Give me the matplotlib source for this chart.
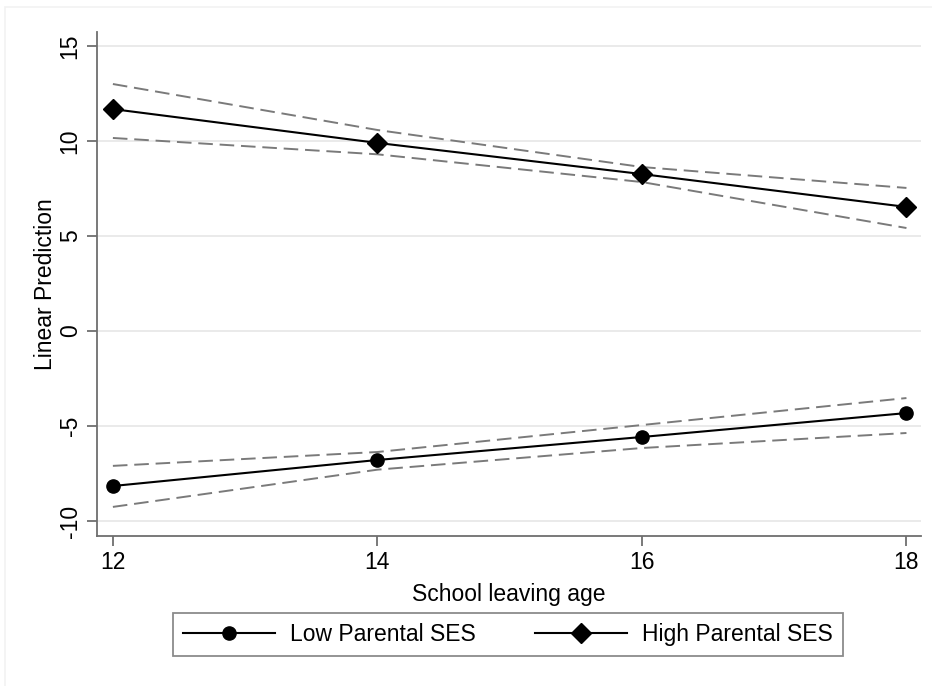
import matplotlib
matplotlib.use('Agg')
import matplotlib.pyplot as plt
from matplotlib.patches import Rectangle

plt.rcParams['font.family'] = ['Liberation Sans', 'DejaVu Sans']

# data
age = [12, 14, 16, 18]
low = [-8.16, -6.79, -5.58, -4.32]
low_lo = [-9.26, -7.30, -6.16, -5.37]
low_hi = [-7.10, -6.37, -4.95, -3.53]
high = [11.68, 9.90, 8.26, 6.53]
high_lo = [10.16, 9.30, 7.84, 5.42]
high_hi = [13.00, 10.58, 8.63, 7.53]
yticks = [-10, -5, 0, 5, 10, 15]

fig = plt.figure(figsize=(9.32, 6.86), dpi=100)
fig.patches.append(Rectangle((0.005, -0.01), 1.2, 1.0, transform=fig.transFigure,
                             fill=False, edgecolor='#f2f2f2', linewidth=1.2))
ax = fig.add_axes([0.1041, 0.2187, 0.8841, 0.7347])

ci_style = dict(color='#7a7a7a', linewidth=1.4, linestyle=(0, (7.5, 3.5)))
ax.plot(age, low_lo, **ci_style)
ax.plot(age, low_hi, **ci_style)
ax.plot(age, high_lo, **ci_style)
ax.plot(age, high_hi, **ci_style)
l1, = ax.plot(age, low, color='black', linewidth=1.5, marker='o', markersize=9.5,
              label='Low Parental SES')
l2, = ax.plot(age, high, color='black', linewidth=1.5, marker='D', markersize=10,
              label='High Parental SES')

ax.set_xlim(11.88, 18.11)
ax.set_ylim(-10.79, 15.74)
ax.set_xticks(age)
ax.set_yticks(yticks)
ax.set_yticklabels([str(v) for v in yticks], rotation=90, va='center')
ax.grid(axis='y', color='#e6e6e6', linewidth=1.2)
ax.set_axisbelow(True)

for s in ['top', 'right']:
    ax.spines[s].set_visible(False)
for s in ['left', 'bottom']:
    ax.spines[s].set_color('#6e6e6e')
    ax.spines[s].set_linewidth(1.3)
ax.tick_params(axis='both', colors='#6e6e6e', length=7, width=1.3,
               labelsize=16.5, labelcolor='black', pad=4)

ax.set_xlabel('School leaving age', fontsize=16.5, labelpad=6)
ax.set_ylabel('Linear Prediction', fontsize=16.5, labelpad=1)

leg = fig.legend(handles=[l1, l2], loc='center', bbox_to_anchor=(0.545, 0.075),
                 ncol=2, fontsize=16.5, fancybox=False, frameon=True,
                 handlelength=4.0, handletextpad=0.65, columnspacing=2.6,
                 borderpad=0.45, numpoints=1)
leg.get_frame().set_edgecolor('#6e6e6e')
leg.get_frame().set_linewidth(1.3)

fig.savefig('out.png', dpi=100, facecolor='white')
